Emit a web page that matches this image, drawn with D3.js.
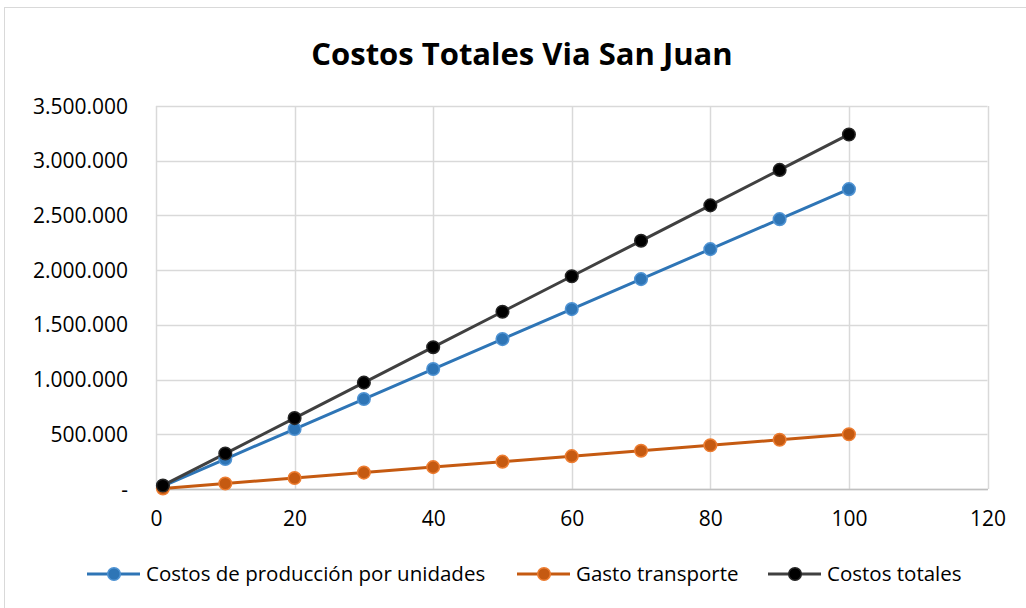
<!DOCTYPE html>
<html><head><meta charset="utf-8">
<script src="https://cdn.jsdelivr.net/npm/d3@7"></script>
<style>body{margin:0;background:#fff}svg{display:block}text{font-family:"Open Sans",sans-serif;fill:#000}</style>
</head><body>
<svg id="c" width="1026" height="608"></svg>
<script>
const title = "Costos Totales Via San Juan";
const units = [1, 10, 20, 30, 40, 50, 60, 70, 80, 90, 100];
const produccion = [27400, 274000, 548000, 822000, 1096000, 1370000, 1644000, 1918000, 2192000, 2466000, 2740000];
const transporte = [5000, 50000, 100000, 150000, 200000, 250000, 300000, 350000, 400000, 450000, 500000];
const totales = [32400, 324000, 648000, 972000, 1296000, 1620000, 1944000, 2268000, 2592000, 2916000, 3240000];
const seriesNames = ["Costos de producción por unidades", "Gasto transporte", "Costos totales"];
const xTicks = [0, 20, 40, 60, 80, 100, 120];
const yTicks = [0, 500000, 1000000, 1500000, 2000000, 2500000, 3000000, 3500000];

const styles = [
  {line: "#2e75b6", fill: "#2e75b6", stroke: "#4f93d3"},
  {line: "#c55a11", fill: "#c55a11", stroke: "#ed7d31"},
  {line: "#404040", fill: "#000000", stroke: "#262626"}
];
const series = [produccion, transporte, totales].map((v, i) => ({name: seriesNames[i], values: v, style: styles[i]}));

const svg = d3.select("#c");
svg.append("rect").attr("x", 4.5).attr("y", 7.5).attr("width", 1030).attr("height", 610)
  .attr("fill", "#fff").attr("stroke", "#d9d9d9");

const L = 156, R = 987.5, T = 106, B = 489;
const x = d3.scaleLinear().domain([0, 120]).range([L, R]);
const y = d3.scaleLinear().domain([0, 3500000]).range([B, T]);

svg.append("text").attr("x", 522).attr("y", 65).attr("text-anchor", "middle")
  .attr("font-size", 31).attr("font-weight", "bold").text(title);

// gridlines
svg.append("g").selectAll("line").data(yTicks).join("line")
  .attr("x1", L).attr("x2", R).attr("y1", d => Math.round(y(d)) + 0.5).attr("y2", d => Math.round(y(d)) + 0.5)
  .attr("stroke", "#d9d9d9").attr("stroke-width", 1.5);
svg.append("g").selectAll("line").data(xTicks).join("line")
  .attr("y1", T).attr("y2", B).attr("x1", d => Math.round(x(d)) + 0.5).attr("x2", d => Math.round(x(d)) + 0.5)
  .attr("stroke", "#d9d9d9").attr("stroke-width", 1.5);

// axes
const fmt = d => d === 0 ? "-" : d3.format(",")(d).replace(/,/g, ".");
const yAxis = d3.axisLeft(y).tickValues(yTicks).tickFormat(fmt).tickSize(0).tickPadding(28);
const gy = svg.append("g").attr("transform", `translate(${L},0)`).call(yAxis);
gy.select(".domain").remove();
gy.selectAll("text").attr("font-size", 21).attr("font-family", "Open Sans").attr("dy", "0.34em");

const xAxis = d3.axisBottom(x).tickValues(xTicks).tickSize(0).tickPadding(22);
const gx = svg.append("g").attr("transform", `translate(0,${B})`).call(xAxis);
gx.select(".domain").attr("stroke", "#bfbfbf").attr("stroke-width", 1.5);
gx.selectAll("text").attr("font-size", 21).attr("font-family", "Open Sans");

// lines and markers
const line = d3.line().x((d, i) => x(units[i])).y(d => y(d));
series.forEach(s => {
  svg.append("path").datum(s.values).attr("d", line).attr("fill", "none")
    .attr("stroke", s.style.line).attr("stroke-width", 3).attr("stroke-linejoin", "round");
});
series.forEach(s => {
  svg.append("g").selectAll("circle").data(s.values).join("circle")
    .attr("cx", (d, i) => x(units[i])).attr("cy", d => y(d)).attr("r", 6.3)
    .attr("fill", s.style.fill).attr("stroke", s.style.stroke).attr("stroke-width", 1.5);
});

// legend
const legX = [87, 517, 768];
const legY = 574;
series.forEach((s, i) => {
  const g = svg.append("g").attr("transform", `translate(${legX[i]},${legY})`);
  g.append("line").attr("x1", 0).attr("x2", 53).attr("y1", 0).attr("y2", 0)
    .attr("stroke", s.style.line).attr("stroke-width", 3);
  g.append("circle").attr("cx", 27).attr("cy", 0).attr("r", 6.3)
    .attr("fill", s.style.fill).attr("stroke", s.style.stroke).attr("stroke-width", 1.5);
  g.append("text").attr("x", 59).attr("y", 0).attr("dy", "0.35em").attr("font-size", 20.5).text(s.name);
});
</script>
</body></html>
